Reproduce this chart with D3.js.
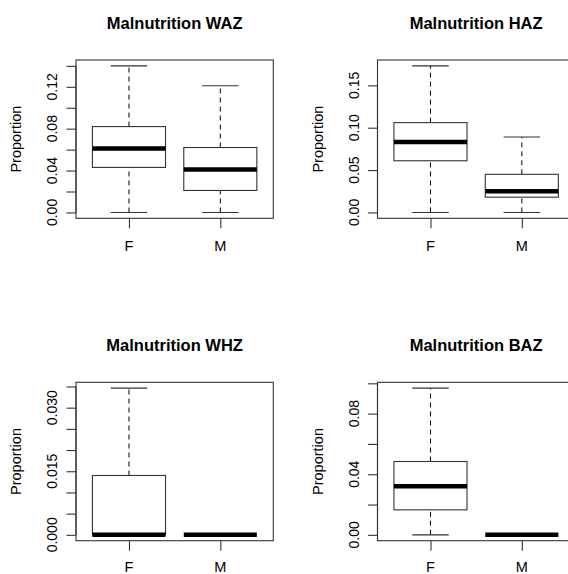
<!DOCTYPE html>
<html>
<head>
<meta charset="utf-8">
<script src="https://cdn.jsdelivr.net/npm/d3@7"></script>
<style>
  html, body { margin: 0; padding: 0; background: #fff; }
  svg { display: block; }
  text { font-family: "Liberation Sans", Arial, Helvetica, sans-serif; fill: #000; }
</style>
</head>
<body>
<svg id="chart" width="568" height="574"></svg>
<script>
// Groups on the x axis
const groups = ["F", "M"];

// Panel titles
const titles = ["Malnutrition WAZ", "Malnutrition HAZ", "Malnutrition WHZ", "Malnutrition BAZ"];

// Box statistics per group: [lower whisker, Q1, median, Q3, upper whisker]
const wazStats = [[0, 0.043, 0.061, 0.082, 0.140], [0, 0.021, 0.041, 0.062, 0.121]];
const hazStats = [[0, 0.061, 0.083, 0.106, 0.173], [0, 0.018, 0.025, 0.045, 0.089]];
const whzStats = [[0, 0, 0, 0.014, 0.0346], [0, 0, 0, 0, 0]];
const bazStats = [[0, 0.0165, 0.032, 0.0484, 0.0968], [0, 0, 0, 0, 0]];

// Y tick positions and the ones that carry labels
const wazTicks = [0, 0.02, 0.04, 0.06, 0.08, 0.10, 0.12, 0.14];
const wazLabels = ["0.00", "0.04", "0.08", "0.12"];
const hazTicks = [0, 0.05, 0.10, 0.15];
const hazLabels = ["0.00", "0.05", "0.10", "0.15"];
const whzTicks = [0, 0.005, 0.010, 0.015, 0.020, 0.025, 0.030, 0.035];
const whzLabels = ["0.000", "0.015", "0.030"];
const bazTicks = [0, 0.02, 0.04, 0.06, 0.08, 0.10];
const bazLabels = ["0.00", "0.04", "0.08"];

const yLabel = "Proportion";

// Plot regions for the 2x2 grid
const frames = [
  { left: 76,    top: 60,    w: 197.3, h: 158.3, titleY: 29,  catY: 251 },
  { left: 377.5, top: 60,    w: 197.3, h: 158.3, titleY: 29,  catY: 251 },
  { left: 76,    top: 382.3, w: 197.3, h: 158.4, titleY: 351, catY: 572 },
  { left: 377.5, top: 382.3, w: 197.3, h: 158.4, titleY: 351, catY: 572 }
];

const panels = [
  { stats: wazStats, ticks: wazTicks, labels: wazLabels },
  { stats: hazStats, ticks: hazTicks, labels: hazLabels },
  { stats: whzStats, ticks: whzTicks, labels: whzLabels },
  { stats: bazStats, ticks: bazTicks, labels: bazLabels }
];

const svg = d3.select("#chart");
const LINE = "#333";

panels.forEach((p, i) => {
  const f = frames[i];
  const g = svg.append("g");

  // Axis ranges extended by 4% like base graphics
  const lo = d3.min(p.stats, s => s[0]);
  const hi = d3.max(p.stats, s => s[4]);
  const pad = (hi - lo) * 0.04;
  const y = d3.scaleLinear().domain([lo - pad, hi + pad]).range([f.top + f.h, f.top]);
  const x = d3.scaleLinear().domain([0.42, 2.58]).range([f.left, f.left + f.w]);

  // Title
  g.append("text")
    .attr("x", f.left + f.w / 2 - (i % 2 ? 0 : 0))
    .attr("y", f.titleY)
    .attr("text-anchor", "middle")
    .style("font-weight", "bold")
    .style("font-size", "16.5px")
    .text(titles[i]);

  // Plot frame
  g.append("rect")
    .attr("x", f.left).attr("y", f.top)
    .attr("width", f.w).attr("height", f.h)
    .attr("fill", "none").attr("stroke", LINE).attr("stroke-width", 1.1);

  // Y axis: line, ticks and rotated labels
  const yAxis = d3.axisLeft(y)
    .tickValues(p.ticks)
    .tickSizeOuter(0)
    .tickSizeInner(9.5)
    .tickFormat(() => "");
  const ya = g.append("g").attr("transform", `translate(${f.left},0)`).call(yAxis);
  ya.select(".domain").remove();
  ya.selectAll(".tick line").attr("stroke", LINE).attr("stroke-width", 1.1);
  g.append("line")
    .attr("x1", f.left).attr("x2", f.left)
    .attr("y1", y(p.ticks[0])).attr("y2", y(p.ticks[p.ticks.length - 1]))
    .attr("stroke", LINE).attr("stroke-width", 1.1);
  p.labels.forEach(lab => {
    const v = +lab;
    g.append("text")
      .attr("transform", `translate(${f.left - 18.7},${y(v)}) rotate(-90)`)
      .attr("text-anchor", "middle")
      .style("font-size", "14px")
      .text(lab);
  });

  // Y axis title
  g.append("text")
    .attr("transform", `translate(${f.left - 55},${f.top + f.h / 2}) rotate(-90)`)
    .attr("text-anchor", "middle")
    .style("font-size", "14.5px")
    .text(yLabel);

  // X axis: ticks and group labels
  const xAxis = d3.axisBottom(x)
    .tickValues(groups.map((_, k) => k + 1))
    .tickSizeOuter(0)
    .tickSizeInner(10)
    .tickFormat(() => "");
  const xa = g.append("g").attr("transform", `translate(0,${f.top + f.h})`).call(xAxis);
  xa.select(".domain").remove();
  xa.selectAll(".tick line").attr("stroke", LINE).attr("stroke-width", 1.1);
  groups.forEach((name, k) => {
    g.append("text")
      .attr("x", x(k + 1)).attr("y", f.catY)
      .attr("text-anchor", "middle")
      .style("font-size", "14.5px")
      .text(name);
  });

  // Boxes
  p.stats.forEach((s, k) => {
    const c = k + 1;
    const half = 0.4, staple = 0.2;
    const bg = g.append("g");
    // whiskers
    [[s[0], s[1]], [s[3], s[4]]].forEach(([a, b]) => {
      if (a !== b) {
        bg.append("line")
          .attr("x1", x(c)).attr("x2", x(c))
          .attr("y1", y(a)).attr("y2", y(b))
          .attr("stroke", "#000").attr("stroke-width", 1)
          .attr("stroke-dasharray", "5,4");
      }
    });
    // staples
    [s[0], s[4]].forEach(v => {
      bg.append("line")
        .attr("x1", x(c - staple)).attr("x2", x(c + staple))
        .attr("y1", y(v)).attr("y2", y(v))
        .attr("stroke", LINE).attr("stroke-width", 1.1);
    });
    // box
    bg.append("rect")
      .attr("x", x(c - half)).attr("y", y(s[3]))
      .attr("width", x(c + half) - x(c - half))
      .attr("height", Math.max(0, y(s[1]) - y(s[3])))
      .attr("fill", "#fff").attr("stroke", LINE).attr("stroke-width", 1.1);
    // median
    bg.append("line")
      .attr("x1", x(c - half)).attr("x2", x(c + half))
      .attr("y1", y(s[2])).attr("y2", y(s[2]))
      .attr("stroke", "#000").attr("stroke-width", 4.5);
  });
});
</script>
</body>
</html>
